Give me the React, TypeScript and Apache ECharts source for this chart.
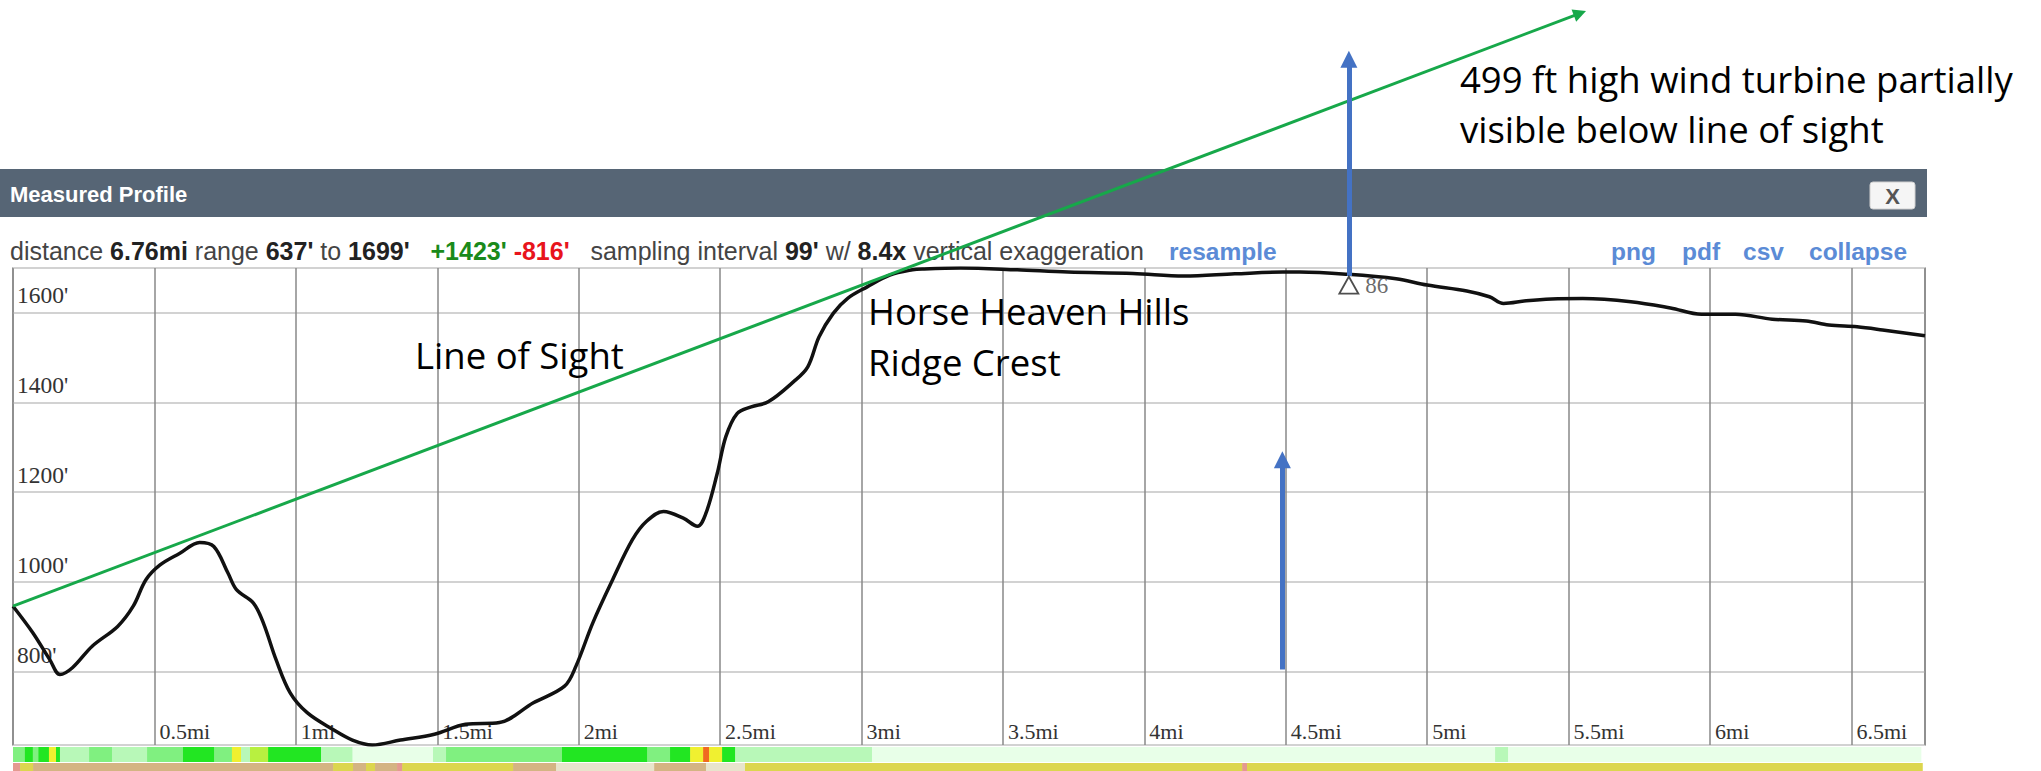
import React, { useEffect, useRef } from "react";
import * as echarts from "echarts";

// ---- profile data (miles, feet) ----
const distanceMi = [
  0.0, 0.07, 0.13, 0.166, 0.21, 0.28, 0.37, 0.425, 0.47, 0.52, 0.59, 0.66, 0.71, 0.76, 0.79, 0.85,
  0.885, 0.93, 0.98, 1.04, 1.13, 1.2, 1.27, 1.37, 1.49, 1.6, 1.72, 1.84, 1.95, 1.99, 2.05, 2.12,
  2.19, 2.24, 2.3, 2.37, 2.42, 2.45, 2.49, 2.52, 2.56, 2.61, 2.67, 2.76, 2.81, 2.85, 2.9, 2.95,
  3.02, 3.1, 3.18, 3.22, 3.35, 3.55, 3.73, 3.96, 4.14, 4.32, 4.49, 4.55, 4.72, 4.89, 5.0, 5.14,
  5.22, 5.27, 5.35, 5.44, 5.55, 5.72, 5.86, 5.97, 6.09, 6.22, 6.34, 6.42, 6.52, 6.61, 6.76,
];
const elevationFt = [
  946, 887, 827, 794, 809, 857, 901, 946, 1005, 1038, 1064, 1088, 1079, 1020, 983, 953,
  909, 827, 753, 709, 672, 648, 637, 648, 661, 683, 687, 731, 768, 812, 909, 1005,
  1094, 1135, 1157, 1142, 1124, 1153, 1242, 1323, 1375, 1390, 1401, 1446, 1479, 1546, 1598, 1631,
  1657, 1683, 1695, 1697, 1699, 1695, 1690, 1687, 1681, 1686, 1690, 1690, 1685, 1675, 1661, 1648,
  1635, 1620, 1626, 1630, 1631, 1624, 1610, 1596, 1596, 1585, 1581, 1572, 1568, 1561, 1548,
];

// axis extents
const xMinMi = 0;
const xMaxMi = 6.76;
const xTickStepMi = 0.5;
const yMinFt = 637;
const yMaxFt = 1699;

// line of sight (start, end) in [mi, ft]
const lineOfSight = [
  [0, 946],
  [5.54, 2266],
];
// blue arrows (wind turbine height, 499 ft) in [mi, ft]
const turbineArrows = [
  [[4.723, 1681], [4.723, 2164]],
  [[4.488, 805], [4.488, 1272]],
];
// turbine marker
const markerPoint = [4.723, 1661];
const markerLabel = "86";

// slope band segments [startMi, endMi, colorKey]
const slopeColors: Record<string, string> = {
  pale: "#e8ffe8",
  light: "#b8f8b8",
  mid: "#80f080",
  bright: "#22e622",
  lime: "#b8f040",
  yellow: "#f0f030",
  orange: "#f06a20",
};
const slopeBand: [number, number, string][] = [
  [0, 0.042, "mid"], [0.042, 0.07, "bright"], [0.07, 0.09, "mid"], [0.09, 0.127, "bright"],
  [0.127, 0.152, "yellow"], [0.152, 0.166, "bright"], [0.166, 0.269, "light"], [0.269, 0.35, "mid"],
  [0.35, 0.474, "light"], [0.474, 0.601, "mid"], [0.601, 0.711, "bright"], [0.711, 0.774, "mid"],
  [0.774, 0.806, "yellow"], [0.806, 0.838, "light"], [0.838, 0.902, "lime"], [0.902, 1.089, "bright"],
  [1.089, 1.2, "light"], [1.2, 1.485, "pale"], [1.485, 1.531, "light"], [1.531, 1.941, "mid"],
  [1.941, 2.242, "bright"], [2.242, 2.323, "mid"], [2.323, 2.394, "bright"], [2.394, 2.44, "yellow"],
  [2.44, 2.461, "orange"], [2.461, 2.507, "yellow"], [2.507, 2.553, "bright"], [2.553, 2.8, "light"],
  [2.8, 3.037, "light"], [3.037, 5.24, "pale"], [5.24, 5.286, "light"], [5.286, 6.745, "pale"],
];
// land-cover band segments [startMi, endMi, colorKey]
const coverColors: Record<string, string> = {
  tan: "#d4b483",
  yellow: "#dcd64e",
  pink: "#e49a90",
  beige: "#e8e4cc",
};
const coverBand: [number, number, string][] = [
  [0, 0.025, "pink"], [0.025, 0.071, "yellow"], [0.071, 1.132, "tan"], [1.132, 1.202, "yellow"],
  [1.202, 1.248, "tan"], [1.248, 1.28, "yellow"], [1.28, 1.358, "tan"], [1.358, 1.376, "pink"],
  [1.376, 1.768, "yellow"], [1.768, 1.92, "tan"], [1.92, 2.267, "beige"], [2.267, 2.45, "tan"],
  [2.45, 2.588, "beige"], [2.588, 4.346, "yellow"], [4.346, 4.363, "pink"], [4.363, 6.75, "yellow"],
];

const SANS = "'Liberation Sans', Arial, sans-serif";
const SERIF = "'Liberation Serif', 'Times New Roman', serif";
const NOTE = "'Open Sans', 'Noto Sans', sans-serif";
const INFO_SIZE = 25;
const LINK_SIZE = 24.5;

function bandSeries(band: [number, number, string][], colors: Record<string, string>, idx: number) {
  return {
    type: "custom",
    xAxisIndex: idx,
    yAxisIndex: idx,
    clip: false,
    silent: true,
    encode: { x: [0, 1] },
    data: band.map((b) => ({ value: [b[0], b[1]], itemStyle: { color: colors[b[2]] } })),
    renderItem: (params: any, api: any) => {
      const s = api.coord([api.value(0), 1]);
      const e = api.coord([api.value(1), 0]);
      return {
        type: "rect",
        shape: { x: s[0], y: s[1], width: e[0] - s[0] + 0.6, height: e[1] - s[1] },
        style: { fill: api.visual("color") },
      };
    },
  };
}

export default function App() {
  const ref = useRef<HTMLDivElement>(null);
  useEffect(() => {
    if (!ref.current) return;
    const chart = echarts.init(ref.current, undefined, { renderer: "svg" });
    const profile = distanceMi.map((d, i) => [d, elevationFt[i]]);

    const infoRich = {
      n: { fontFamily: SANS, fontSize: INFO_SIZE, fill: "#444" },
      b: { fontFamily: SANS, fontSize: INFO_SIZE, fill: "#222", fontWeight: "bold" },
      g: { fontFamily: SANS, fontSize: INFO_SIZE, fill: "#1a8a1a", fontWeight: "bold" },
      r: { fontFamily: SANS, fontSize: INFO_SIZE, fill: "#e8141c", fontWeight: "bold" },
    };
    const linkStyle = (text: string, x: number) => ({
      type: "text",
      x,
      y: 251,
      z: 1,
      style: {
        text,
        fontFamily: SANS,
        fontSize: LINK_SIZE,
        fontWeight: "bold",
        fill: "#5b8bd6",
        verticalAlign: "middle",
        textVerticalAlign: "middle",
      },
    });
    const note = (text: string, x: number, y: number) => ({
      type: "text",
      x,
      y,
      z: 100,
      style: {
        text,
        fontFamily: NOTE,
        fontSize: 36.5,
        fill: "#000",
        verticalAlign: "middle",
        textVerticalAlign: "middle",
      },
    });

    chart.setOption({
      animation: false,
      backgroundColor: "#fff",
      grid: [
        { left: 13, top: 268, width: 1912, height: 477, show: true, borderColor: "#8c8c8c", borderWidth: 1.5, backgroundColor: "transparent" },
        { left: 13, top: 747, width: 1912, height: 15, show: false },
        { left: 13, top: 763, width: 1912, height: 8, show: false },
      ],
      xAxis: [
        {
          type: "value",
          gridIndex: 0,
          min: xMinMi,
          max: xMaxMi,
          interval: xTickStepMi,
          axisLine: { show: false },
          axisTick: { show: false },
          splitLine: { show: true, lineStyle: { color: "#888", width: 1.5 } },
          axisLabel: {
            inside: true,
            align: "left",
            verticalAlign: "bottom",
            margin: 3,
            padding: [0, 0, 0, 5],
            fontFamily: SERIF,
            fontSize: 22,
            color: "#333",
            showMinLabel: false,
            showMaxLabel: false,
            formatter: (v: number) => (v === 0 ? "" : `${v}mi`),
          },
        },
        { type: "value", gridIndex: 1, min: xMinMi, max: xMaxMi, show: false },
        { type: "value", gridIndex: 2, min: xMinMi, max: xMaxMi, show: false },
      ],
      yAxis: [
        {
          type: "value",
          gridIndex: 0,
          min: yMinFt,
          max: yMaxFt,
          splitNumber: 5,
          axisLine: { show: false },
          axisTick: { show: false },
          splitLine: { show: true, lineStyle: { color: "#d2d2d2", width: 2 } },
          axisLabel: {
            inside: true,
            align: "left",
            verticalAlign: "bottom",
            margin: 4,
            padding: [0, 0, 5, 0],
            fontFamily: SERIF,
            fontSize: 23.5,
            color: "#333",
            showMinLabel: false,
            showMaxLabel: false,
            formatter: (v: number) => `${v}'`,
          },
        },
        { type: "value", gridIndex: 1, min: 0, max: 1, show: false },
        { type: "value", gridIndex: 2, min: 0, max: 1, show: false },
      ],
      graphic: [
        { type: "rect", z: 0, shape: { x: 0, y: 169, width: 1927, height: 48 }, style: { fill: "#566575" } },
        {
          type: "text",
          x: 10,
          y: 194,
          z: 1,
          style: {
            text: "Measured Profile",
            fontFamily: SANS,
            fontSize: 22,
            fontWeight: "bold",
            fill: "#fff",
            verticalAlign: "middle",
            textVerticalAlign: "middle",
          },
        },
        {
          type: "rect",
          z: 1,
          shape: { x: 1870, y: 182, width: 45, height: 27, r: 3 },
          style: { fill: "#f5f5f5", stroke: "#d0d0d0", lineWidth: 1 },
        },
        {
          type: "text",
          x: 1892.5,
          y: 196,
          z: 2,
          style: {
            text: "X",
            fontFamily: SANS,
            fontSize: 22,
            fontWeight: "bold",
            fill: "#555",
            align: "center",
            textAlign: "center",
            verticalAlign: "middle",
            textVerticalAlign: "middle",
          },
        },
        {
          type: "text",
          x: 10,
          y: 251,
          z: 1,
          style: {
            text:
              "{n|distance }{b|6.76mi }{n|range }{b|637' }{n|to }{b|1699'   }{g|+1423' }{r|-816'   }{n|sampling interval }{b|99' }{n|w/ }{b|8.4x }{n|vertical exaggeration}",
            rich: infoRich,
            fontFamily: SANS,
            fontSize: INFO_SIZE,
            verticalAlign: "middle",
            textVerticalAlign: "middle",
          },
        },
        linkStyle("resample", 1169),
        linkStyle("png", 1611),
        linkStyle("pdf", 1682),
        linkStyle("csv", 1743),
        linkStyle("collapse", 1809),
        note("Line of Sight", 415, 355),
        note("Horse Heaven Hills", 868, 311),
        note("Ridge Crest", 868, 362),
        note("499 ft high wind turbine partially", 1460, 79),
        note("visible below line of sight", 1460, 129),
      ],
      series: [
        {
          type: "line",
          name: "profile",
          xAxisIndex: 0,
          yAxisIndex: 0,
          data: profile,
          smooth: 0.35,
          symbol: "none",
          lineStyle: { color: "#111", width: 3.5 },
          z: 3,
        },
        {
          type: "lines",
          coordinateSystem: "cartesian2d",
          xAxisIndex: 0,
          yAxisIndex: 0,
          clip: false,
          z: 4,
          symbol: ["none", "triangle"],
          symbolSize: [12, 13],
          lineStyle: { color: "#17a84a", width: 3, opacity: 1 },
          data: [{ coords: lineOfSight }],
        },
        {
          type: "lines",
          coordinateSystem: "cartesian2d",
          xAxisIndex: 0,
          yAxisIndex: 0,
          clip: false,
          z: 5,
          symbol: ["none", "triangle"],
          symbolSize: [17, 17],
          lineStyle: { color: "#4472c4", width: 5, opacity: 1 },
          data: turbineArrows.map((c) => ({ coords: c })),
        },
        {
          type: "scatter",
          xAxisIndex: 0,
          yAxisIndex: 0,
          z: 6,
          symbol: "triangle",
          symbolSize: [19, 17],
          itemStyle: { color: "#fff", borderColor: "#222", borderWidth: 1.8 },
          label: {
            show: true,
            position: "right",
            distance: 6,
            formatter: markerLabel,
            fontFamily: SERIF,
            fontSize: 23,
            color: "#444",
          },
          data: [markerPoint],
        },
        bandSeries(slopeBand, slopeColors, 1),
        bandSeries(coverBand, coverColors, 2),
      ],
    });
    return () => chart.dispose();
  }, []);
  return (
    <div
      ref={ref}
      style={{ position: "fixed", left: 0, top: 0, width: 2041, height: 771, background: "#fff" }}
    />
  );
}
